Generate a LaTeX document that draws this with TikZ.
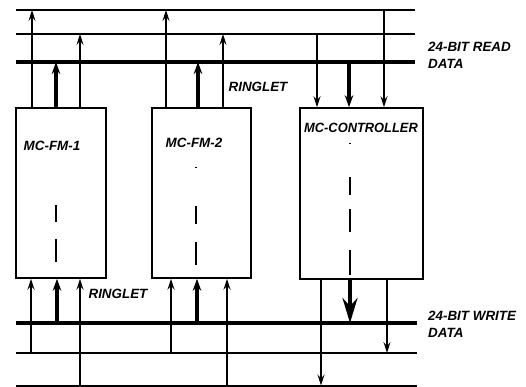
\documentclass[tikz,border=0pt]{standalone}
\usepackage{fontspec}
\setmainfont{Liberation Sans}
\usepackage{tikz}
\usetikzlibrary{arrows.meta, positioning, calc}
\tikzset{
  unitbox/.style={draw, line width=1.6pt, inner sep=0pt, minimum height=170pt},
  busline/.style={line width=2pt},
  thickbus/.style={line width=4.6pt},
  thinarrow/.style={-{Stealth[length=11pt, width=7pt, inset=4pt]}, line width=1.2pt},
  thickarrow/.style={-{Stealth[length=12pt, width=8.5pt]}, line width=3.2pt},
  bigarrow/.style={-{Stealth[length=25pt, width=15pt]}, line width=3.4pt},
  midline/.style={line width=1.3pt},
  mylbl/.style={font=\fontsize{13.4}{17}\selectfont\bfseries\itshape, inner sep=0pt},
}

\begin{document}
\begin{tikzpicture}[x=1pt, y=-1pt]
      \useasboundingbox (0,0) rectangle (526,387);
      % read buses
      \coordinate (rd1) at (16,10);
      \coordinate (rd2) at (16,34);
      \coordinate (rdbus) at (16,62);
      \draw[busline] (rd1) -- ++(399,0);
      \draw[busline] (rd2) -- ++(399,0);
      \draw[thickbus] (rdbus) -- ++(399,0);
      % write buses
      \coordinate (wrbus) at (16,323);
      \coordinate (wr2) at (16,353);
      \coordinate (wr3) at (16,385.5);
      \draw[thickbus] (wrbus) -- ++(401,0);
      \draw[busline] (wr2) -- ++(401,0);
      \draw[busline] (wr3) -- ++(401,0);
      % units
      \node[unitbox, minimum width=90pt] (fm1) at (61,193) {};
      \node[unitbox, minimum width=99pt] (fm2) at (201.5,193) {};
      \node[unitbox, minimum width=123pt, minimum height=171pt] (ctrl) at (361.5,193.5) {};
      \node[mylbl] (fm1lbl) at (52,146) {MC-FM-1};
      \node[mylbl] (fm2lbl) at (194,143) {MC-FM-2};
      \node[mylbl, xscale=0.96] (ctrllbl) at (361,127.5) {MC-CONTROLLER};
      \draw[midline, dash pattern=on 17pt off 17pt on 23pt] ([xshift=-5pt]fm1.center) ++(0,12) -- ++(0,57);
      \draw[midline, dash pattern=on 1pt off 38pt on 18pt off 18pt on 23pt] ([xshift=-5.5pt]fm2.center) ++(0,-26) -- ++(0,98);
      \draw[midline, dash pattern=on 1pt off 33pt on 18pt off 14pt on 23pt off 18pt on 25pt] ([xshift=-11.5pt]ctrl.center) ++(0,-50.5) -- ++(0,132);
      % fm1 to read buses
      \draw[thinarrow] ([xshift=-29pt]fm1.north) -- ([xshift=-29pt]fm1.north |- rd1);
      \draw[thickarrow] ([xshift=-5pt]fm1.north) -- ([xshift=-5pt]fm1.north |- rdbus);
      \draw[thinarrow] ([xshift=19pt]fm1.north) -- ([xshift=19pt]fm1.north |- rd2);
      % fm2 to read buses
      \draw[thinarrow] ([xshift=-35.5pt]fm2.north) -- ([xshift=-35.5pt]fm2.north |- rd1);
      \draw[thickarrow] ([xshift=-3.5pt]fm2.north) -- ([xshift=-3.5pt]fm2.north |- rdbus);
      \draw[thinarrow] ([xshift=21.5pt]fm2.north) -- ([xshift=21.5pt]fm2.north |- rd2);
      % read buses to controller
      \draw[thinarrow] ([xshift=-44.5pt]ctrl.north |- rd2) -- ([xshift=-44.5pt]ctrl.north);
      \draw[thickarrow] ([xshift=-12.5pt]ctrl.north |- rdbus) -- ([xshift=-12.5pt]ctrl.north);
      \draw[thinarrow] ([xshift=22.5pt]ctrl.north |- rd1) -- ([xshift=22.5pt]ctrl.north);
      % write buses to fm1
      \draw[thinarrow] ([xshift=-30pt]fm1.south |- wr2) -- ([xshift=-30pt]fm1.south);
      \draw[thickarrow] ([xshift=-4pt]fm1.south |- wrbus) -- ([xshift=-4pt]fm1.south);
      \draw[thinarrow] ([xshift=19pt]fm1.south |- wr3) -- ([xshift=19pt]fm1.south);
      % write buses to fm2
      \draw[thinarrow] ([xshift=-30.5pt]fm2.south |- wr2) -- ([xshift=-30.5pt]fm2.south);
      \draw[thickarrow] ([xshift=-4.5pt]fm2.south |- wrbus) -- ([xshift=-4.5pt]fm2.south);
      \draw[thinarrow] ([xshift=25.5pt]fm2.south |- wr3) -- ([xshift=25.5pt]fm2.south);
      % controller to write buses
      \draw[thinarrow] ([xshift=-40.5pt]ctrl.south) -- ([xshift=-40.5pt]ctrl.south |- wr3);
      \draw[bigarrow] ([xshift=-11.5pt]ctrl.south) -- ([xshift=-11.5pt]ctrl.south |- wrbus);
      \draw[thinarrow] ([xshift=25.5pt]ctrl.south) -- ([xshift=25.5pt]ctrl.south |- wr2);
      % labels
      \node[mylbl, anchor=west, align=left] (rdlbl) at (428,55.5) {24-BIT READ\\DATA};
      \node[mylbl, anchor=west, align=left] (wrlbl) at (428,324) {24-BIT WRITE\\DATA};
      \node[mylbl] (ring1) at (258,86.5) {RINGLET};
      \node[mylbl] (ring2) at (118,294) {RINGLET};
    \end{tikzpicture}
\end{document}
